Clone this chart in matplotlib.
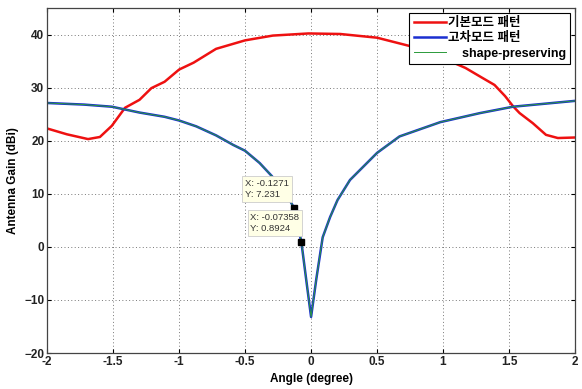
import matplotlib
matplotlib.use("Agg")
import matplotlib.pyplot as plt

# Red: fundamental mode pattern
red_x = [-2.0, -1.85, -1.69, -1.60, -1.51, -1.41, -1.30, -1.21, -1.11, -1.0, -0.89, -0.72,
         -0.50, -0.29, -0.02, 0.22, 0.50, 0.80, 1.05, 1.17, 1.30, 1.39, 1.47, 1.53, 1.58,
         1.68, 1.78, 1.87, 2.0]
red_y = [22.3, 21.2, 20.3, 20.7, 22.8, 26.2, 27.7, 29.9, 31.1, 33.4, 34.7, 37.3,
         38.9, 39.8, 40.2, 40.1, 39.4, 37.5, 35.0, 33.7, 31.8, 30.5, 28.4, 26.5, 25.2,
         23.3, 21.1, 20.5, 20.6]

# Blue: higher-order mode pattern
blue_x = [-2.0, -1.72, -1.51, -1.30, -1.11, -1.0, -0.87, -0.72, -0.59, -0.50, -0.39,
          -0.30, -0.20, -0.1271, -0.07358, -0.03, 0.0, 0.04, 0.088, 0.144, 0.20, 0.295,
          0.50, 0.67, 0.98, 1.28, 1.53, 2.0]
blue_y = [27.1, 26.8, 26.4, 25.3, 24.5, 23.8, 22.7, 21.0, 19.2, 18.1, 15.8,
          13.4, 10.5, 7.231, 0.8924, -7.5, -13.2, -6.0, 1.8, 5.6, 8.8, 12.6,
          17.7, 20.8, 23.5, 25.2, 26.4, 27.5]

tips = [(-0.1271, 7.231), (-0.07358, 0.8924)]

plt.rcParams['font.family'] = ['Liberation Sans', 'Noto Sans CJK KR', 'DejaVu Sans']

fig = plt.figure(figsize=(5.82, 3.89), dpi=100)
ax = fig.add_axes([0.081, 0.0925, 0.907, 0.887])

ax.plot(red_x, red_y, color='#ee1111', lw=1.8, label='기본모드 패턴')
ax.plot(blue_x, blue_y, color='#1a2fd0', lw=1.8, label='고차모드 패턴')
ax.plot(blue_x, blue_y, color='#2a9a3a', lw=0.7, label='    shape-preserving')

for (tx, ty) in tips:
    ax.plot([tx], [ty], marker='s', color='black', ms=5, zorder=5)
ax.text(-0.50, 10.9, 'X: -0.1271\nY: 7.231', fontsize=6.8, color='#333333',
        va='center', ha='left', linespacing=1.3,
        bbox=dict(boxstyle='square,pad=0.3', fc='#ffffe6', ec='#cccccc', lw=0.6), zorder=6)
ax.text(-0.46, 4.5, 'X: -0.07358\nY: 0.8924', fontsize=6.8, color='#333333',
        va='center', ha='left', linespacing=1.3,
        bbox=dict(boxstyle='square,pad=0.3', fc='#ffffe6', ec='#cccccc', lw=0.6), zorder=6)

ax.set_xlim(-2, 2)
ax.set_ylim(-20, 45)
ax.set_xticks([-2, -1.5, -1, -0.5, 0, 0.5, 1, 1.5, 2])
ax.set_xticklabels(['-2', '-1.5', '-1', '-0.5', '0', '0.5', '1', '1.5', '2'])
ax.set_yticks([-20, -10, 0, 10, 20, 30, 40])
ax.grid(True, linestyle=(0, (1, 2.5)), color='#777777', lw=0.7)
ax.tick_params(direction='in', length=3, labelsize=8.5, top=True, right=True, pad=2)
for lab in ax.get_xticklabels() + ax.get_yticklabels():
    lab.set_fontweight('bold')
    lab.set_color('#222222')
for s in ax.spines.values():
    s.set_color('#444444')
    s.set_linewidth(0.9)

ax.set_xlabel('Angle (degree)', fontsize=8.5, fontweight='bold', labelpad=4)
ax.set_ylabel('Antenna Gain (dBi)', fontsize=8.5, fontweight='bold', labelpad=4)

leg = ax.legend(loc='upper right', fontsize=9, frameon=True, fancybox=False,
                framealpha=1.0, borderaxespad=0.4, handlelength=2.6, handletextpad=0.1,
                labelspacing=0.25, borderpad=0.35)
leg.get_frame().set_edgecolor('black')
leg.get_frame().set_linewidth(0.8)
for t in leg.get_texts():
    t.set_fontweight('bold')

fig.savefig('out.png', dpi=100)
